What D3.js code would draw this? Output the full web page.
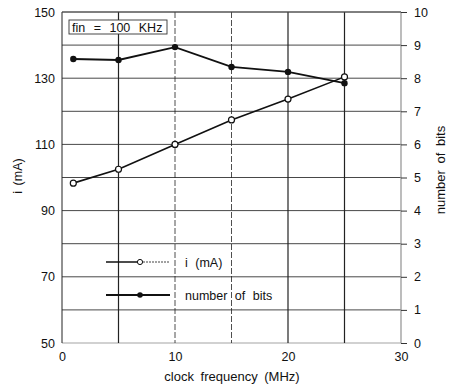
<!DOCTYPE html>
<html><head><meta charset="utf-8">
<script src="https://cdn.jsdelivr.net/npm/d3@7"></script>
<style>body{margin:0;background:#fff}svg{display:block}text{font-family:"Liberation Sans",Arial,sans-serif;fill:#111}</style>
</head><body><svg id="c" width="454" height="386"></svg>
<script>
const freq = [1, 5, 10, 15, 20, 25];
const current = [98.3, 102.5, 110, 117.4, 123.7, 130.4];
const bits = [8.58, 8.55, 8.94, 8.34, 8.19, 7.85];
const leftTicks = [50, 70, 90, 110, 130, 150];
const rightTicks = [0,1,2,3,4,5,6,7,8,9,10];
const xTicks = [0, 10, 20, 30];

const svg = d3.select("#c");
const L = 62, R = 401, T = 12, B = 343;
const x = d3.scaleLinear().domain([0,30]).range([L,R]);
const yL = d3.scaleLinear().domain([50,150]).range([B,T]);
const yR = d3.scaleLinear().domain([0,10]).range([B,T]);

const g = svg.append("g");
// grid
g.selectAll(".hg").data(d3.range(50,151,10)).join("line")
  .attr("x1",L).attr("x2",R).attr("y1",d=>yL(d)).attr("y2",d=>yL(d))
  .attr("stroke",d=>d===50?"#999":"#333").attr("stroke-width",0.9);
g.selectAll(".vg").data([5,10,15,20,25]).join("line")
  .attr("x1",d=>x(d)).attr("x2",d=>x(d)).attr("y1",T).attr("y2",B)
  .attr("stroke","#222").attr("stroke-width",d=>(d===5||d===20||d===25)?1.2:0.8)
  .attr("stroke-dasharray",d=>(d===10||d===15)?"6,2":null);
// frame
g.append("line").attr("x1",L).attr("x2",L).attr("y1",T).attr("y2",B).attr("stroke","#222").attr("stroke-width",1);
g.append("line").attr("x1",R).attr("x2",R).attr("y1",T).attr("y2",B).attr("stroke","#999").attr("stroke-width",1.3);
g.append("line").attr("x1",L).attr("x2",R).attr("y1",T).attr("y2",T).attr("stroke","#555").attr("stroke-width",0.9);

// axes
const axL = d3.axisLeft(yL).tickValues(leftTicks).tickSize(0).tickPadding(7);
const gl = svg.append("g").attr("transform",`translate(${L},0)`).call(axL);
gl.select(".domain").remove();
gl.selectAll("text").attr("font-size",12.5);
const axR = d3.axisRight(yR).tickValues(rightTicks).tickSize(6).tickPadding(7);
const gr = svg.append("g").attr("transform",`translate(${R},0)`).call(axR);
gr.select(".domain").remove();
gr.selectAll("line").attr("stroke","#333");
gr.selectAll("text").attr("font-size",12.5);
const axB = d3.axisBottom(x).tickValues(xTicks).tickSize(0).tickPadding(9);
const gb = svg.append("g").attr("transform",`translate(0,${B})`).call(axB);
gb.select(".domain").remove();
gb.selectAll("text").attr("font-size",12.5);

// titles
svg.append("text").attr("x",232).attr("y",381).attr("text-anchor","middle").attr("font-size",13).attr("word-spacing",3).text("clock frequency (MHz)");
svg.append("text").attr("transform","translate(22,176) rotate(-90)").attr("text-anchor","middle").attr("font-size",12.5).attr("word-spacing",2).text("i (mA)");
svg.append("text").attr("transform","translate(445,170) rotate(-90)").attr("text-anchor","middle").attr("font-size",13).attr("word-spacing",3).text("number of bits");

// fin box
svg.append("rect").attr("x",69).attr("y",20).attr("width",98).attr("height",14).attr("fill","#fff").attr("stroke","#333").attr("stroke-width",0.9);
svg.append("text").attr("x",72).attr("y",31.5).attr("font-size",12.5).attr("word-spacing",5).text("fin = 100 KHz");

// series
const lineI = d3.line().x((d,i)=>x(freq[i])).y(d=>yL(d));
const lineB = d3.line().x((d,i)=>x(freq[i])).y(d=>yR(d));
svg.append("path").attr("d",lineI(current)).attr("fill","none").attr("stroke","#111").attr("stroke-width",1.6);
svg.append("path").attr("d",lineB(bits)).attr("fill","none").attr("stroke","#111").attr("stroke-width",1.8);
svg.selectAll(".pi").data(current).join("circle").attr("cx",(d,i)=>x(freq[i])).attr("cy",d=>yL(d)).attr("r",3).attr("fill","#fff").attr("stroke","#111").attr("stroke-width",1.2);
svg.selectAll(".pb").data(bits).join("circle").attr("cx",(d,i)=>x(freq[i])).attr("cy",d=>yR(d)).attr("r",3.2).attr("fill","#111");

// legend
const lg = svg.append("g");
lg.append("line").attr("x1",106).attr("x2",140).attr("y1",262).attr("y2",262).attr("stroke","#111").attr("stroke-width",1.6);
lg.append("line").attr("x1",140).attr("x2",170).attr("y1",262).attr("y2",262).attr("stroke","#444").attr("stroke-width",1.2).attr("stroke-dasharray","2,1");
lg.append("circle").attr("cx",140).attr("cy",262).attr("r",2.6).attr("fill","#fff").attr("stroke","#111");
lg.append("text").attr("x",185).attr("y",266.5).attr("font-size",12.5).attr("word-spacing",4).text("i (mA)");
lg.append("line").attr("x1",106).attr("x2",170).attr("y1",295).attr("y2",295).attr("stroke","#111").attr("stroke-width",1.8);
lg.append("circle").attr("cx",140).attr("cy",295).attr("r",2.8).attr("fill","#111");
lg.append("text").attr("x",185).attr("y",299.5).attr("font-size",12.5).attr("word-spacing",4).text("number of bits");
</script></body></html>
